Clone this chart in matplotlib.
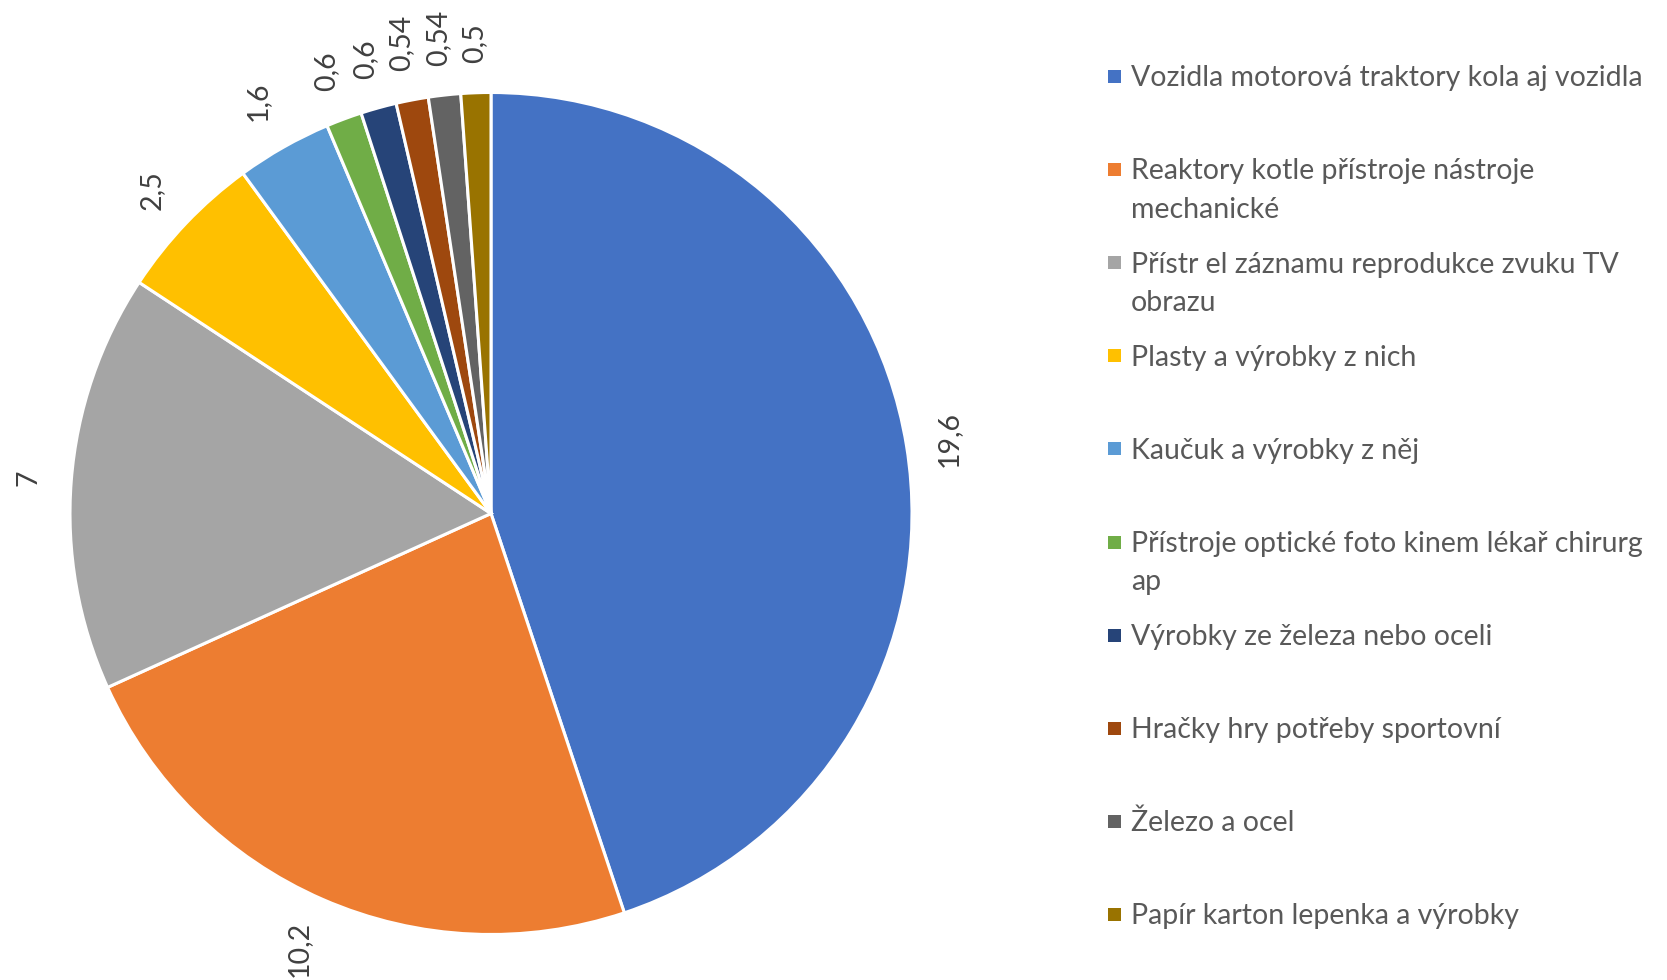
import numpy as np
import matplotlib.pyplot as plt
from matplotlib.patches import Rectangle

W, H = 1667, 980

values = [19.6, 10.2, 7, 2.5, 1.6, 0.6, 0.6, 0.54, 0.54, 0.5]
value_labels = ['19,6', '10,2', '7', '2,5', '1,6', '0,6', '0,6', '0,54', '0,54', '0,5']
categories = [
    'Vozidla motorová traktory kola aj vozidla',
    'Reaktory kotle přístroje nástroje\nmechanické',
    'Přístr el záznamu reprodukce zvuku TV\nobrazu',
    'Plasty a výrobky z nich',
    'Kaučuk a výrobky z něj',
    'Přístroje optické foto kinem lékař chirurg\nap',
    'Výrobky ze železa nebo oceli',
    'Hračky hry potřeby sportovní',
    'Železo a ocel',
    'Papír karton lepenka a výrobky',
]
colors = ['#4472C4', '#ED7D31', '#A5A5A5', '#FFC000', '#5B9BD5',
          '#70AD47', '#264478', '#9E480E', '#636363', '#997300']

plt.rcParams['font.family'] = ['Lato', 'DejaVu Sans']
FS = 20.5

fig = plt.figure(figsize=(W / 100, H / 100), dpi=100)

# pie placement (pixels)
cx, cy, r = 491, 513.5, 421
ax = fig.add_axes([(cx - r) / W, (H - cy - r) / H, 2 * r / W, 2 * r / H])
wedges, texts = ax.pie(values, labels=value_labels, startangle=90, counterclock=False,
                       colors=colors, labeldistance=1.1,
                       wedgeprops=dict(edgecolor='white', linewidth=2.2))
ax.set_xlim(-1, 1)
ax.set_ylim(-1, 1)

for t in texts:
    t.set_rotation(90)
    t.set_ha('center')
    t.set_va('center')
    t.set_fontsize(FS)
    t.set_color('#404040')

# push each label out so its box sits just outside the pie
fig.canvas.draw()
renderer = fig.canvas.get_renderer()
gap = 0.07
for w, t in zip(wedges, texts):
    ang = np.deg2rad((w.theta1 + w.theta2) / 2)
    ux, uy = np.cos(ang), np.sin(ang)
    bb = t.get_window_extent(renderer)
    tx = bb.width / 2 / abs(ux) if abs(ux) > 1e-6 else np.inf
    ty = bb.height / 2 / abs(uy) if abs(uy) > 1e-6 else np.inf
    d = r * (1 + gap) + min(tx, ty)
    x, y = d * ux, d * uy
    # keep the label inside the figure
    bottom = (H - cy) + y - bb.height / 2
    if bottom < 3:
        y += 3 - bottom
    t.set_position((x / r, y / r))

# legend, drawn entry by entry
sq = 13
for i, (cat, col) in enumerate(zip(categories, colors)):
    base = 86.4 + i * 93.1
    ymid = base - 9.8
    fig.add_artist(Rectangle((1108 / W, 1 - (ymid + sq / 2) / H), sq / W, sq / H,
                             transform=fig.transFigure, facecolor=col, edgecolor='none'))
    for j, line in enumerate(cat.split('\n')):
        fig.text(1131 / W, 1 - (base + j * 38.3) / H, line, ha='left', va='baseline',
                 fontsize=FS, color='#595959')

fig.savefig('out.png', dpi=100)
